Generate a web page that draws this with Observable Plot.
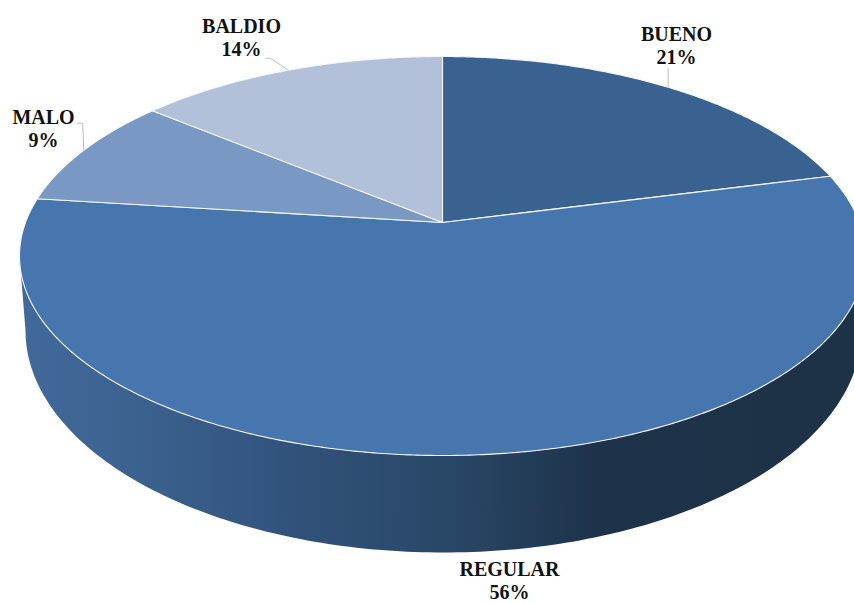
<!DOCTYPE html>
<html>
<head>
<meta charset="utf-8">
<script src="https://cdn.jsdelivr.net/npm/d3@7"></script>
<script src="https://cdn.jsdelivr.net/npm/@observablehq/plot@0.6"></script>
<style>html,body{margin:0;padding:0;background:#fff}svg{display:block}</style>
</head>
<body>
<div id="chart"></div>
<script>
// Data
const categories = ["BUENO", "REGULAR", "MALO", "BALDIO"];
const shares = [21, 56, 9, 14];
const sliceColors = ["#3a6290", "#4775ae", "#7a98c4", "#b2c1d9"];
// Layout
const W = 854, H = 603;
const top3d = {cx: 442, cy: 255.5, rx: 423, ry: 199.5, a: 0.168};
const base3d = {cx: 443, cy: 330, rx: 418, ry: 222};
const wallStops = [[0, "#41699a"], [0.1, "#3d6492"], [0.21, "#385c88"], [0.33, "#31517a"], [0.5, "#294868"], [0.69, "#1e3249"], [1, "#1d3147"]];
const labelPos = {
  BUENO: {x: 676, y: 45, via: [[0, -19]]},
  REGULAR: {x: 509, y: 580, via: null},
  MALO: {x: 43, y: 128, via: [[-1, -27], [-6, -27]]},
  BALDIO: {x: 241, y: 37, via: [[-18, -12], [-22, -12]]}
};

// Perspective view of the unit disk: angle is clockwise from the top, in degrees.
function rim(deg) {
  const t = deg * Math.PI / 180, u = Math.sin(t), v = Math.cos(t);
  const {cx, cy, rx, ry, a} = top3d, d = 1 + a * v;
  return {x: cx + rx * u * Math.sqrt(1 - a * a) / d, y: cy - ry * (v + a) / d};
}
const apex = {x: top3d.cx, y: top3d.cy - top3d.ry * top3d.a};
function arc(from, to) {
  const n = Math.max(2, Math.ceil(Math.abs(to - from) / 0.5)), out = [];
  for (let i = 0; i <= n; i++) out.push(rim(from + (to - from) * i / n));
  return out;
}
const total = d3.sum(shares);
const cum = d3.cumsum(shares);
const slices = categories.map((name, i) => {
  const start = (i ? cum[i - 1] : 0) / total * 360, end = cum[i] / total * 360;
  return {name, share: shares[i], color: sliceColors[i], start, end, mid: (start + end) / 2,
    points: [apex, ...arc(start, end), apex]};
});

// Side wall: outer outline between the rim and the lower base ellipse.
function ell(e, deg) {
  const t = deg * Math.PI / 180;
  return {x: e.cx + e.rx * Math.cos(t), y: e.cy + e.ry * Math.sin(t)};
}
const wall = [];
for (let d = 0; d <= 180; d += 1) wall.push(ell(top3d, d));
for (let d = 180; d >= 0; d -= 1) wall.push(ell(base3d, d));
wall.push(wall[0]);

const gradient = () => {
  const defs = d3.create("svg:defs");
  const g = defs.append("linearGradient").attr("id", "wallFill");
  wallStops.forEach(([o, c]) => g.append("stop").attr("offset", o).attr("stop-color", c));
  return defs.node();
};

const leaders = slices.filter(s => labelPos[s.name].via).map(s => {
  const p = rim(s.mid);
  return {name: s.name, points: [p, ...labelPos[s.name].via.map(([dx, dy]) => ({x: p.x + dx, y: p.y + dy}))]};
});

const labels = slices.map(s => ({text: `${s.name}\n${s.share}%`, x: labelPos[s.name].x, y: labelPos[s.name].y}));

const chart = Plot.plot({
  width: W, height: H,
  margin: 0,
  x: {domain: [0, W], range: [0, W], axis: null},
  y: {domain: [0, H], range: [0, H], axis: null},
  style: {background: "#fff"},
  marks: [
    gradient,
    Plot.line(wall, {x: "x", y: "y", fill: "url(#wallFill)", stroke: "none"}),
    ...slices.map(s => Plot.line(s.points, {x: "x", y: "y", fill: s.color, stroke: "#f4f6fa", strokeWidth: 1.1})),
    ...leaders.map(l => Plot.line(l.points, {x: "x", y: "y", stroke: "#bdbdbd", strokeWidth: 1})),
    Plot.text(labels, {x: "x", y: "y", text: "text", fontFamily: "Liberation Serif", fontWeight: "bold",
      fontSize: 20, lineHeight: 1.15, fill: "#111", textAnchor: "middle"})
  ]
});
document.getElementById("chart").appendChild(chart);
</script>
</body>
</html>
